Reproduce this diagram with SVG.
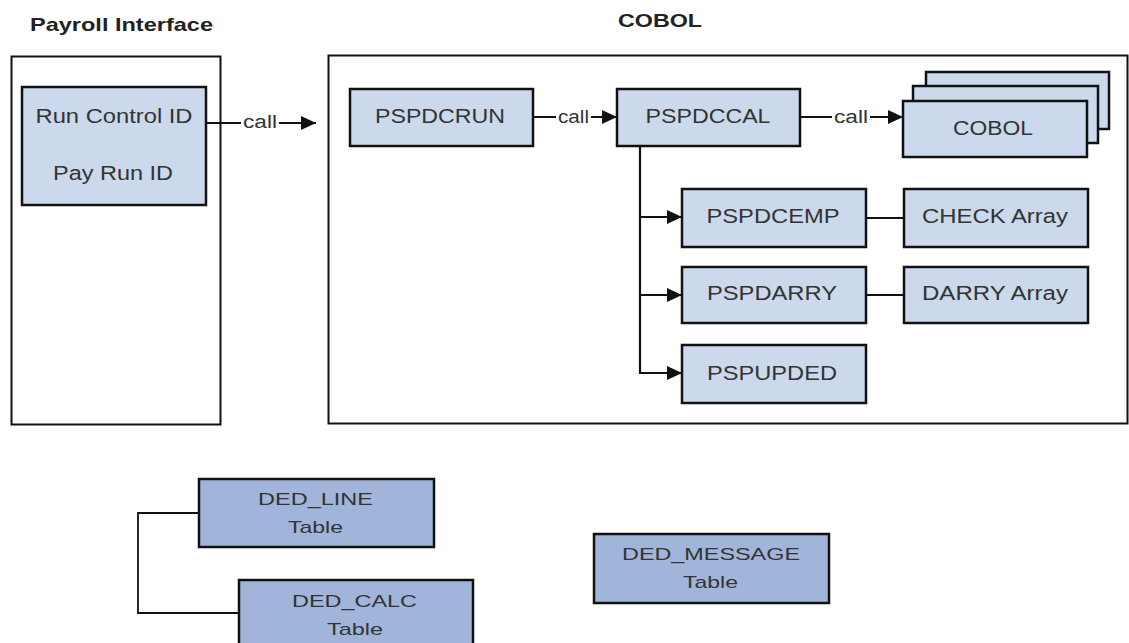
<svg xmlns="http://www.w3.org/2000/svg" width="1129" height="643" viewBox="0 0 1129 643">
<defs>
<style>
.title{font-family:"Liberation Sans",Arial,sans-serif;font-weight:bold;font-size:19px;fill:#222}
.lbl{font-family:"Liberation Sans",Arial,sans-serif;font-size:20px;fill:#333;text-anchor:middle}
.tbl{font-family:"Liberation Sans",Arial,sans-serif;font-size:17px;fill:#333;text-anchor:middle}
.call{font-family:"Liberation Sans",Arial,sans-serif;font-size:18px;fill:#333;text-anchor:middle}
.outer{fill:#fff;stroke:#111;stroke-width:2}
.box{fill:#ccd9ec;stroke:#111;stroke-width:2.5}
.tab{fill:#a1b5db;stroke:#111;stroke-width:2.5}
.ln{fill:none;stroke:#111;stroke-width:2.2}
.thin{fill:none;stroke:#111;stroke-width:1.8}
</style>
<marker id="arr" markerUnits="userSpaceOnUse" markerWidth="16" markerHeight="16" refX="15" refY="7" orient="auto">
<path d="M0,0 L15,7 L0,14 Z" fill="#111"/>
</marker>
</defs>
<rect width="1129" height="643" fill="#fff"/>

<g id="titles">
<text class="title" x="30" y="31" textLength="183" lengthAdjust="spacingAndGlyphs">Payroll Interface</text>
<text class="title" x="618" y="27" textLength="84" lengthAdjust="spacingAndGlyphs">COBOL</text>
</g>

<g id="payroll-interface"><rect class="outer" x="11.5" y="56.5" width="209" height="368"/></g>
<g id="cobol-container"><rect class="outer" x="328.5" y="55.5" width="799" height="368"/></g>

<g id="connectors">
<line class="ln" x1="206" y1="123" x2="316" y2="123" marker-end="url(#arr)"/>
<rect x="241" y="112" width="38" height="20" fill="#fff"/>
<text class="call" x="260" y="128" textLength="34" lengthAdjust="spacingAndGlyphs">call</text>

<line class="ln" x1="533" y1="117" x2="617" y2="117" marker-end="url(#arr)"/>
<rect x="556" y="106" width="35" height="20" fill="#fff"/>
<text class="call" x="573.5" y="123" textLength="31" lengthAdjust="spacingAndGlyphs">call</text>

<line class="ln" x1="800" y1="117" x2="903" y2="117" marker-end="url(#arr)"/>
<rect x="832" y="106" width="38" height="20" fill="#fff"/>
<text class="call" x="851" y="123" textLength="34" lengthAdjust="spacingAndGlyphs">call</text>

<polyline class="ln" points="640,146 640,373 682,373" marker-end="url(#arr)"/>
<line class="ln" x1="640" y1="217" x2="682" y2="217" marker-end="url(#arr)"/>
<line class="ln" x1="640" y1="295" x2="682" y2="295" marker-end="url(#arr)"/>

<line class="ln" x1="866" y1="218" x2="904" y2="218"/>
<line class="ln" x1="866" y1="295" x2="904" y2="295"/>

<polyline class="thin" points="199,513 138,513 138,613 239,613"/>
</g>

<g id="run-control">
<rect class="box" x="22" y="87" width="184" height="118"/>
<text class="lbl" x="114" y="123" textLength="157" lengthAdjust="spacingAndGlyphs">Run Control ID</text>
<text class="lbl" x="113" y="180" textLength="120" lengthAdjust="spacingAndGlyphs">Pay Run ID</text>
</g>

<g id="pspdcrun">
<rect class="box" x="350" y="89" width="183" height="57"/>
<text class="lbl" x="440" y="123" textLength="130" lengthAdjust="spacingAndGlyphs">PSPDCRUN</text>
</g>

<g id="pspdccal">
<rect class="box" x="617" y="89" width="183" height="57"/>
<text class="lbl" x="708" y="123" textLength="125" lengthAdjust="spacingAndGlyphs">PSPDCCAL</text>
</g>

<g id="cobol-stack">
<rect class="box" x="926" y="72" width="183" height="57"/>
<rect class="box" x="913" y="86" width="185" height="57"/>
<rect class="box" x="903" y="101" width="184" height="56"/>
<text class="lbl" x="993" y="135" textLength="80" lengthAdjust="spacingAndGlyphs">COBOL</text>
</g>

<g id="pspdcemp">
<rect class="box" x="682" y="189" width="184" height="58"/>
<text class="lbl" x="773" y="223" textLength="133" lengthAdjust="spacingAndGlyphs">PSPDCEMP</text>
</g>

<g id="pspdarry">
<rect class="box" x="682" y="267" width="184" height="56"/>
<text class="lbl" x="772" y="300" textLength="130" lengthAdjust="spacingAndGlyphs">PSPDARRY</text>
</g>

<g id="pspupded">
<rect class="box" x="682" y="345" width="184" height="58"/>
<text class="lbl" x="772" y="380" textLength="130" lengthAdjust="spacingAndGlyphs">PSPUPDED</text>
</g>

<g id="check-array">
<rect class="box" x="904" y="189" width="184" height="58"/>
<text class="lbl" x="995" y="223" textLength="146" lengthAdjust="spacingAndGlyphs">CHECK Array</text>
</g>

<g id="darry-array">
<rect class="box" x="904" y="267" width="184" height="56"/>
<text class="lbl" x="995" y="300" textLength="146" lengthAdjust="spacingAndGlyphs">DARRY Array</text>
</g>

<g id="ded-line">
<rect class="tab" x="199" y="479" width="235" height="68"/>
<text class="tbl" x="315.5" y="505" textLength="115" lengthAdjust="spacingAndGlyphs">DED_LINE</text>
<text class="tbl" x="315.5" y="533" textLength="55" lengthAdjust="spacingAndGlyphs">Table</text>
</g>

<g id="ded-calc">
<rect class="tab" x="239" y="580" width="234" height="75"/>
<text class="tbl" x="354.5" y="607" textLength="125" lengthAdjust="spacingAndGlyphs">DED_CALC</text>
<text class="tbl" x="355" y="635" textLength="56" lengthAdjust="spacingAndGlyphs">Table</text>
</g>

<g id="ded-message">
<rect class="tab" x="594" y="534" width="235" height="69"/>
<text class="tbl" x="711" y="560" textLength="178" lengthAdjust="spacingAndGlyphs">DED_MESSAGE</text>
<text class="tbl" x="710.5" y="588" textLength="55" lengthAdjust="spacingAndGlyphs">Table</text>
</g>
</svg>
